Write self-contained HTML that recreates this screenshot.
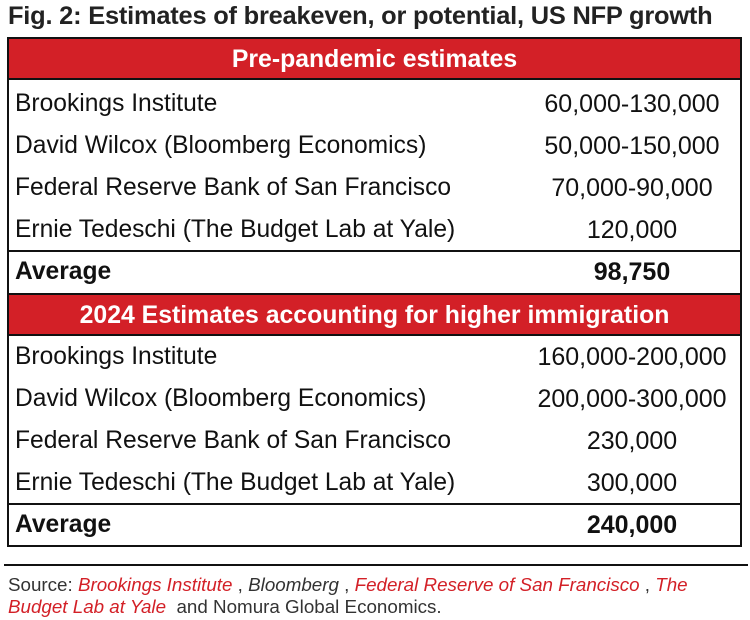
<!DOCTYPE html>
<html><head><meta charset="utf-8"><style>
*{margin:0;padding:0;box-sizing:border-box}
body{width:750px;height:620px;background:#fff;position:relative;overflow:hidden;font-family:"Liberation Sans",Arial,sans-serif;color:#111}
.a{position:absolute;white-space:nowrap}
.t{left:8px;top:2px;font-size:25.4px;font-weight:bold;color:#222;letter-spacing:-0.2px}
.box{position:absolute;left:7px;width:735px;border:2px solid #111}
.hd{position:absolute;left:0;width:100%;height:41px;background:#d32027;color:#fff;font-weight:bold;font-size:24.8px;text-align:center;line-height:41px;border-bottom:2px solid #111}
.r{position:absolute;left:6px;font-size:24.6px;line-height:42px}
.v{position:absolute;width:240px;left:503px;text-align:center;font-size:25px;line-height:42px}
.b{font-weight:bold}
.ln{position:absolute;left:0;width:100%;height:2px;background:#111}
.src{font-size:18.8px;color:#333;left:8px;line-height:22px}
.red{color:#d32027;font-style:italic}
.it{font-style:italic}
</style></head><body>
<div class="a t">Fig. 2: Estimates of breakeven, or potential, US NFP growth</div>
<div class="box" style="top:37px;height:510px">
  <div class="hd" style="top:0">Pre-pandemic estimates</div>
  <div class="r" style="top:44px">Brookings Institute</div><div class="v" style="top:44px">60,000-130,000</div>
  <div class="r" style="top:86px">David Wilcox (Bloomberg Economics)</div><div class="v" style="top:86px">50,000-150,000</div>
  <div class="r" style="top:128px">Federal Reserve Bank of San Francisco</div><div class="v" style="top:128px">70,000-90,000</div>
  <div class="r" style="top:170px">Ernie Tedeschi (The Budget Lab at Yale)</div><div class="v" style="top:170px">120,000</div>
  <div class="ln" style="top:211px"></div>
  <div class="r b" style="top:212px">Average</div><div class="v b" style="top:212px">98,750</div>
  <div class="hd" style="top:254px;border-top:2px solid #111;height:43px">2024 Estimates accounting for higher immigration</div>
  <div class="r" style="top:297px">Brookings Institute</div><div class="v" style="top:297px">160,000-200,000</div>
  <div class="r" style="top:339px">David Wilcox (Bloomberg Economics)</div><div class="v" style="top:339px">200,000-300,000</div>
  <div class="r" style="top:381px">Federal Reserve Bank of San Francisco</div><div class="v" style="top:381px">230,000</div>
  <div class="r" style="top:423px">Ernie Tedeschi (The Budget Lab at Yale)</div><div class="v" style="top:423px">300,000</div>
  <div class="ln" style="top:464px"></div>
  <div class="r b" style="top:465px">Average</div><div class="v b" style="top:465px">240,000</div>
</div>
<div class="a" style="left:4px;top:564px;width:744px;height:2px;background:#111"></div>
<div class="a src" style="top:574px">Source: <span class="red">Brookings Institute</span> , <span class="it">Bloomberg</span> , <span class="red">Federal Reserve of San Francisco</span> , <span class="red">The</span></div>
<div class="a src" style="top:596px"><span class="red">Budget Lab at Yale</span>&nbsp; and Nomura Global Economics.</div>
</body></html>
